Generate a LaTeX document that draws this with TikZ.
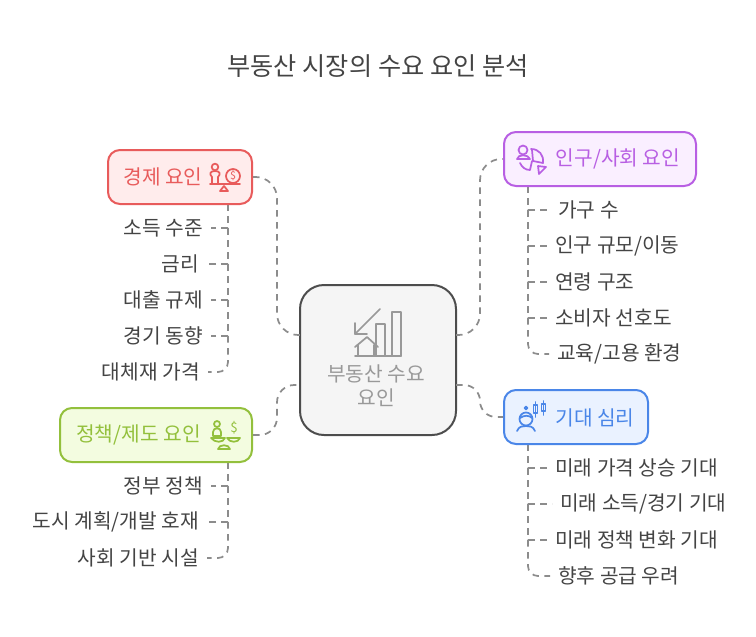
\documentclass[tikz,border=0pt]{standalone}
\usepackage{fontspec}
\setmainfont{Noto Sans CJK KR}
\definecolor{econred}{HTML}{E85B5B}
\definecolor{econfill}{HTML}{FFECEC}
\definecolor{socpurple}{HTML}{B85FE3}
\definecolor{socfill}{HTML}{FAEFFF}
\definecolor{mindblue}{HTML}{4A86E8}
\definecolor{mindfill}{HTML}{EAF2FF}
\definecolor{polgreen}{HTML}{93C03C}
\definecolor{polfill}{HTML}{F3FCE0}
\definecolor{hubline}{HTML}{4D4D4D}
\definecolor{hubfill}{HTML}{F5F5F5}
\definecolor{hubtext}{HTML}{999999}
\definecolor{linkgray}{HTML}{8C8C8C}
\definecolor{leaftext}{HTML}{444444}
\tikzset{
  box/.style={draw, line width=1.5pt, rounded corners=9pt, inner sep=0pt},
  boxtext/.style={font=\fontsize{15.2pt}{17pt}\selectfont, inner sep=0pt},
  leaf/.style={text=leaftext, font=\fontsize{15.2pt}{17pt}\selectfont, inner ysep=0pt},
  link/.style={draw=linkgray, line width=1.3pt, dash pattern=on 4.9pt off 4.1pt},
  icon/.style={line width=1.3pt, line cap=round, line join=round}
}
\begin{document}
\begin{tikzpicture}[x=0.75pt, y=-0.75pt]
\useasboundingbox (0,0) rectangle (756,636);
\node[text=leaftext, font=\fontsize{18.9pt}{22pt}\selectfont, inner sep=0pt] (title) at (378,66) {부동산 시장의 수요 요인 분석};

% trunks start here
\coordinate (econroot) at (228,204);
\coordinate (socroot) at (528,186);
\coordinate (mindroot) at (528,444);
\coordinate (polroot) at (228,462);
\coordinate (hubl1) at (300,335);
\coordinate (hubl2) at (300,385);
\coordinate (hubr1) at (456,335);
\coordinate (hubr2) at (456,385);

% leaves
\foreach \n/\x/\y/\l in {econa/202/228/소득 수준, econb/198/264/금리, econc/202/300/대출 규제, econd/202/336/경기 동향}{
  \node[leaf, anchor=east, inner xsep=6pt] (\n) at (\x+9,\y) {\l};
  \draw[link] (econroot) |- (\n.east);
}
\node[leaf, anchor=east, inner xsep=6pt] (econe) at (208,372) {대체재 가격};
\draw[link, rounded corners=7.5pt] (econroot) |- (econe.east);
\foreach \n/\x/\y/\l in {pola/202/486/정부 정책, polb/198/522/{도시 계획/개발 호재}}{
  \node[leaf, anchor=east, inner xsep=6pt] (\n) at (\x+9,\y) {\l};
  \draw[link] (polroot) |- (\n.east);
}
\node[leaf, anchor=east, inner xsep=6pt] (polc) at (207,558) {사회 기반 시설};
\draw[link, rounded corners=7.5pt] (polroot) |- (polc.east);
\foreach \n/\x/\y/\l in {soca/557/210/가구 수, socb/554/246/{인구 규모/이동}, socc/554/282/연령 구조, socd/554/318/소비자 선호도}{
  \node[leaf, anchor=west, inner xsep=6pt] (\n) at (\x-7,\y) {\l};
  \draw[link] (socroot) |- (\n.west);
}
\node[leaf, anchor=west, inner xsep=6pt] (soce) at (549,354) {교육/고용 환경};
\draw[link, rounded corners=7.5pt] (socroot) |- (soce.west);
\foreach \n/\x/\y/\l in {minda/554/468/미래 가격 상승 기대, mindb/559/504/{미래 소득/경기 기대}, mindc/554/540/미래 정책 변화 기대}{
  \node[leaf, anchor=west, inner xsep=6pt] (\n) at (\x-7,\y) {\l};
  \draw[link] (mindroot) |- (\n.west);
}
\node[leaf, anchor=west, inner xsep=6pt] (mindd) at (550,576) {향후 공급 우려};
\draw[link, rounded corners=7.5pt] (mindroot) |- (mindd.west);

% boxes
\node[box, draw=hubline, fill=hubfill, rounded corners=18pt, minimum width=117pt, minimum height=112.5pt] (hub) at (378,360) {};
\node[box, draw=econred, fill=econfill, minimum width=108pt, minimum height=40.5pt] (econ) at (180,177) {};
\node[box, draw=socpurple, fill=socfill, minimum width=144pt, minimum height=40.5pt] (soc) at (600,159) {};
\node[box, draw=mindblue, fill=mindfill, minimum width=108pt, minimum height=40.5pt] (mind) at (576,417) {};
\node[box, draw=polgreen, fill=polfill, minimum width=144pt, minimum height=40.5pt] (pol) at (156,435) {};

\node[boxtext, text=hubtext, align=center, font=\fontsize{15.2pt}{18pt}\selectfont] (hubtxt) at (376,386) {부동산 수요\\요인};
\node[boxtext, text=econred] (econtxt) at (163,177) {경제 요인};
\node[boxtext, text=socpurple] (soctxt) at (618,159) {인구/사회 요인};
\node[boxtext, text=mindblue] (mindtxt) at (595,418) {기대 심리};
\node[boxtext, text=polgreen] (poltxt) at (138.5,435) {정책/제도 요인};

% hub links
\draw[link, rounded corners=16pt] (econ.east) -- ++(24,0) |- (hubl1);
\draw[link, rounded corners=13pt] (pol.east) -- ++(24,0) |- (hubl2);
\draw[link, rounded corners=16pt] (hubr1) -- ++(24,0) |- (soc.west);
\draw[link, rounded corners=12pt] (hubr2) -- ++(24,0) |- (mind.west);

% hub icon
\begin{scope}[icon, draw=hubtext]
\draw (380,309) -- (355,334);
\draw (355,323) -- (355,334) -- (367,334);
\draw (355,356) -- (401,356);
\draw (376,356) -- (376,324) -- (385,324) -- (385,356);
\draw (392,356) -- (392,312) -- (401,312) -- (401,356);
\draw (355,347) -- (367,337) -- (378,347);
\draw (358,345) -- (358,356);
\draw (374,345) -- (374,356);
\end{scope}

% economy icon
\begin{scope}[icon, draw=econred]
\draw (215,167) circle (3.3);
\draw (212,184) -- (212,177) .. controls (209,174) and (210,171) .. (215,171) .. controls (220,171) and (221,174) .. (218,177) -- (218,184);
\draw (210,184) -- (240,184);
\draw (233,176) circle (7);
\draw (220,191) -- (228,191) -- (224,186) -- cycle;
\end{scope}
\node[text=econred, inner sep=0pt, font=\fontsize{8pt}{8pt}\selectfont] (econdollar) at (233,176) {\$};

% society icon
\begin{scope}[icon, draw=socpurple]
\draw (523,150) circle (4.5);
\draw (517,159) .. controls (518,154) and (528,154) .. (530,159) -- (517,159) -- cycle;
\draw (531,149) .. controls (539,149) and (544,155) .. (543,163) -- (533,161) -- (532,150);
\draw (532,161) -- (530,170) .. controls (525,170) and (522,167) .. (520,163);
\draw (538,166) -- (546,167) -- (539,174) -- cycle;
\end{scope}

% mind icon
\begin{scope}[icon, draw=mindblue]
\draw (526,419) circle (6.5);
\draw (520,418) .. controls (524,415) and (529,415) .. (532,418);
\draw (517,431) .. controls (519,426) and (523,426) .. (526,426) .. controls (529,426) and (533,426) .. (535,431);
\draw (526,408) circle (1.5);
\draw (533.5,405) rectangle (537.5,413);
\draw (535.5,402) -- (535.5,417);
\draw (541.5,404) rectangle (545.5,411);
\draw (543.5,401) -- (543.5,415);
\end{scope}

% policy icon
\begin{scope}[icon, draw=polgreen]
\draw (217,424) circle (3);
\draw (213,432) .. controls (213,427) and (221,427) .. (221,432) -- (221,436) -- (213,436) -- cycle;
\draw (211,438) -- (225,438) .. controls (223,443) and (215,443) .. (211,438) -- cycle;
\draw (227,438) -- (240,438) .. controls (238,443) and (230,443) .. (227,438) -- cycle;
\draw (218,449) .. controls (219,444) and (229,444) .. (230,449) -- cycle;
\end{scope}
\node[text=polgreen, inner sep=0pt, font=\fontsize{10pt}{10pt}\selectfont] (poldollar) at (234,428) {\$};
\end{tikzpicture}
\end{document}
